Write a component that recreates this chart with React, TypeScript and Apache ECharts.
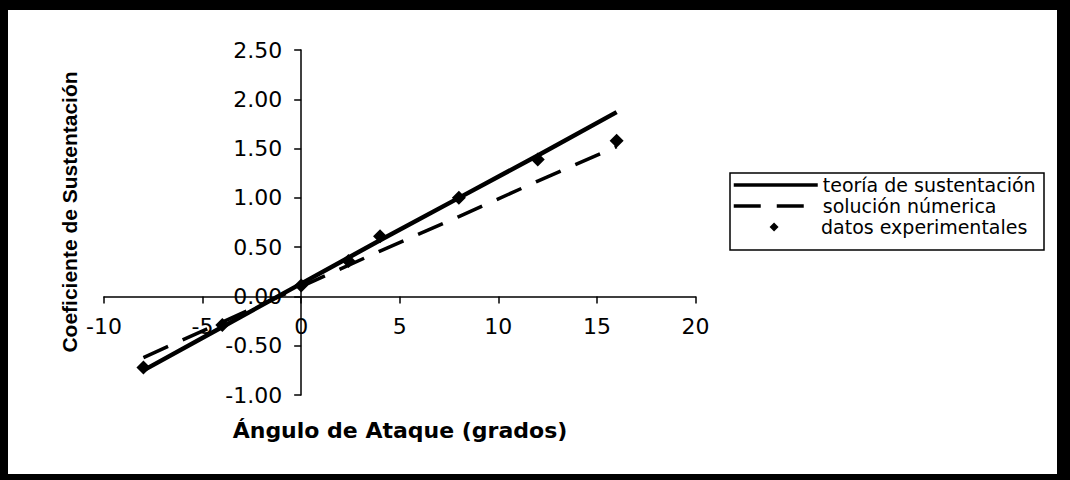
import React, { useEffect, useRef } from "react";
import * as echarts from "echarts";

const angles = [-8, -4, 0, 2, 4, 8, 12, 16];
const theory = [-0.75, -0.31, 0.13, 0.35, 0.57, 1.0, 1.43, 1.87];
const numerical = [-0.62, -0.26, 0.1, 0.28, 0.46, 0.81, 1.17, 1.52];
const expAngles = [-8, -4, 0, 2.4, 4, 8, 12, 16];
const experimental = [-0.72, -0.29, 0.11, 0.36, 0.61, 1.0, 1.39, 1.58];

const seriesNames = ["teoría de sustentación", "solución númerica", "datos experimentales"];
const xTitle = "Ángulo de Ataque (grados)";
const yTitle = "Coeficiente de Sustentación";

const X_MIN = -10;
const X_MAX = 20;
const Y_MIN = -1;
const Y_MAX = 2.5;

export default function App() {
  const ref = useRef<HTMLDivElement>(null);
  useEffect(() => {
    document.body.style.margin = "0";
    const chart = echarts.init(ref.current!, null, { renderer: "svg" });
    const gridLeft = 104;
    const gridRight = 374.5;
    const gridTop = 50;
    const gridBottom = 85;
    const gw = 1070 - gridLeft - gridRight;
    const gh = 480 - gridTop - gridBottom;
    // shift axes so they cross at zero (labels and ticks move with them)
    const xOffset = -((0 - Y_MIN) / (Y_MAX - Y_MIN)) * gh;
    const yOffset = -((0 - X_MIN) / (X_MAX - X_MIN)) * gw;
    const tickFont = { fontFamily: "DejaVu Sans", fontSize: 22, color: "#000" };
    // diamond centred in a wide (84 x 9) legend icon box
    const legendDiamond = "path://M0,0M9.33,1M4.17,0.5L4.67,0L5.17,0.5L4.67,1Z";
    chart.setOption({
      animation: false,
      backgroundColor: "#fff",
      grid: { left: gridLeft, right: gridRight, top: gridTop, bottom: gridBottom, containLabel: false },
      xAxis: {
        type: "value",
        min: X_MIN,
        max: X_MAX,
        interval: 5,
        position: "bottom",
        offset: xOffset,
        axisLine: { onZero: false, lineStyle: { color: "#000", width: 1.5 } },
        axisTick: { show: true, length: 7, lineStyle: { color: "#000", width: 1.5 } },
        axisLabel: { ...tickFont, margin: 19 },
        splitLine: { show: false },
      },
      yAxis: {
        type: "value",
        min: Y_MIN,
        max: Y_MAX,
        interval: 0.5,
        position: "left",
        offset: yOffset,
        axisLine: { onZero: false, lineStyle: { color: "#000", width: 1.5 } },
        axisTick: { show: true, length: 7, lineStyle: { color: "#000", width: 1.5 } },
        axisLabel: { ...tickFont, margin: 19, formatter: (v: number) => v.toFixed(2) },
        splitLine: { show: false },
      },
      legend: [
        {
          data: [seriesNames[0], seriesNames[1]],
          orient: "vertical",
          left: 732,
          top: 175,
          itemWidth: 84,
          itemHeight: 14,
          itemGap: 1,
          padding: 0,
          lineStyle: { width: 3.5 },
          itemStyle: { color: "rgba(0,0,0,0)", borderColor: "rgba(0,0,0,0)", borderWidth: 0 },
          textStyle: { fontFamily: "DejaVu Sans", fontSize: 19, color: "#000", lineHeight: 20 },
        },
        {
          data: [{ name: seriesNames[2], icon: legendDiamond }],
          orient: "vertical",
          left: 732,
          top: 217,
          itemWidth: 84,
          itemHeight: 9,
          symbolKeepAspect: false,
          padding: 0,
          itemStyle: { color: "#000", opacity: 1 },
          textStyle: { fontFamily: "DejaVu Sans", fontSize: 19, color: "#000", lineHeight: 20 },
        },
      ],
      series: [
        {
          name: seriesNames[0],
          type: "line",
          data: angles.map((a, i) => [a, theory[i]]),
          symbol: "none",
          lineStyle: { color: "#000", width: 4.5 },
          itemStyle: { color: "#000" },
          z: 3,
        },
        {
          name: seriesNames[1],
          type: "line",
          data: angles.map((a, i) => [a, numerical[i]]),
          symbol: "none",
          lineStyle: { color: "#000", width: 3.5, type: [27, 16] },
          itemStyle: { color: "#000" },
          z: 2,
        },
        {
          name: seriesNames[2],
          type: "scatter",
          data: expAngles.map((a, i) => [a, experimental[i]]),
          symbol: "diamond",
          symbolSize: 14,
          itemStyle: { color: "#000", opacity: 1 },
          z: 4,
        },
      ],
      graphic: [
        { type: "rect", shape: { x: 730, y: 173, width: 314, height: 77 }, style: { fill: "none", stroke: "#000", lineWidth: 1.5 }, z: 10 },
        { type: "rect", shape: { x: 0, y: 0, width: 1070, height: 10 }, style: { fill: "#000" }, z: 10 },
        { type: "rect", shape: { x: 0, y: 0, width: 8, height: 480 }, style: { fill: "#000" }, z: 10 },
        { type: "rect", shape: { x: 1057, y: 0, width: 13, height: 480 }, style: { fill: "#000" }, z: 10 },
        { type: "rect", shape: { x: 0, y: 474, width: 1070, height: 6 }, style: { fill: "#000" }, z: 10 },
        {
          type: "text",
          x: 400,
          y: 430,
          style: { text: xTitle, fontFamily: "DejaVu Sans", fontWeight: "bold", fontSize: 22, fill: "#000", align: "center", verticalAlign: "middle" },
        },
        {
          type: "text",
          x: 69,
          y: 212,
          rotation: Math.PI / 2,
          style: { text: yTitle, fontFamily: "Liberation Sans, Arial", fontWeight: "bold", fontSize: 21, fill: "#000", align: "center", verticalAlign: "middle" },
        },
      ],
    });
    return () => chart.dispose();
  }, []);
  return <div ref={ref} style={{ width: 1070, height: 480 }} />;
}
